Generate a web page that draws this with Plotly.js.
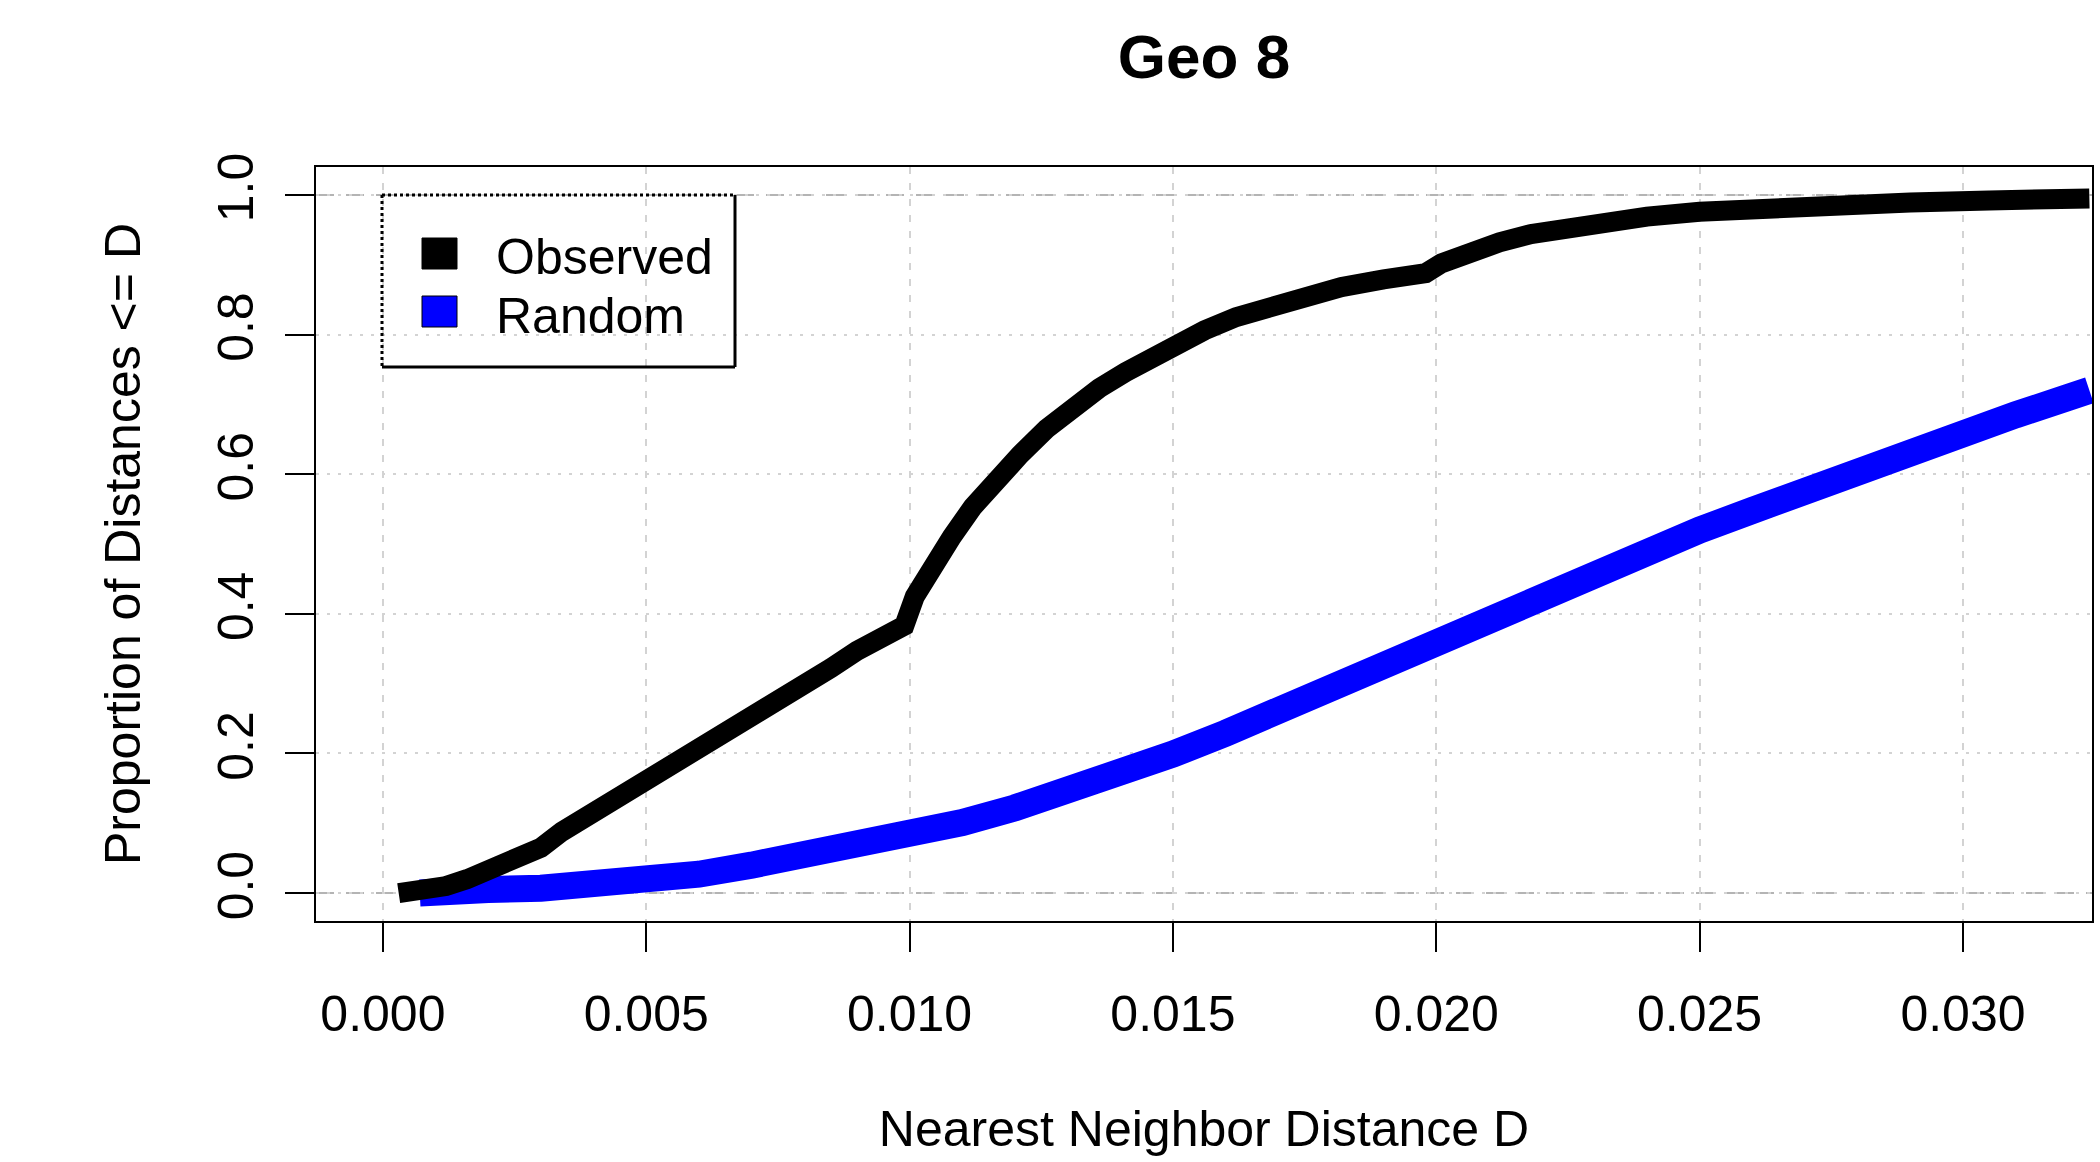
<!DOCTYPE html>
<html>
<head>
<meta charset="utf-8">
<script src="https://cdn.plot.ly/plotly-3.0.1.min.js"></script>
<style>html,body{margin:0;padding:0;background:#fff;}#chart{width:2100px;height:1162px;}</style>
</head>
<body>
<div id="chart"></div>
<script>
// ---- data ----
const obsX = [0.0003,0.0008,0.0012,0.0016,0.0021,0.0025,0.0030,0.0034,0.0038,0.0042,0.0046,0.0050,0.0055,0.0060,0.0065,0.0070,0.0075,0.0080,0.0085,0.0090,0.0095,0.0099,0.0101,0.0104,0.0108,0.0112,0.0116,0.0121,0.0126,0.0131,0.0136,0.0141,0.0146,0.0151,0.0156,0.0162,0.0168,0.0175,0.0182,0.0190,0.0198,0.0201,0.0206,0.0212,0.0218,0.0225,0.0232,0.0240,0.0250,0.0262,0.0275,0.0290,0.0305,0.0320,0.0324];
const obsY = [0.0,0.003,0.01,0.02,0.036,0.052,0.065,0.088,0.106,0.125,0.14,0.158,0.184,0.205,0.232,0.253,0.277,0.30,0.322,0.347,0.367,0.383,0.425,0.465,0.51,0.553,0.59,0.628,0.665,0.697,0.723,0.746,0.768,0.787,0.806,0.825,0.840,0.855,0.868,0.879,0.888,0.902,0.917,0.932,0.944,0.954,0.962,0.969,0.976,0.982,0.986,0.989,0.992,0.994,0.995];
const randX = [0.0007,0.0010,0.0020,0.0030,0.0040,0.0050,0.0060,0.0070,0.0080,0.0090,0.0100,0.0110,0.0120,0.0130,0.0140,0.0150,0.0160,0.0170,0.0180,0.0190,0.0200,0.0210,0.0220,0.0230,0.0240,0.0250,0.0260,0.0270,0.0280,0.0290,0.0300,0.0310,0.0320,0.0324];
const randY = [0.0,0.003,0.005,0.007,0.011,0.017,0.027,0.04,0.053,0.067,0.083,0.101,0.122,0.145,0.17,0.199,0.229,0.262,0.295,0.329,0.362,0.395,0.428,0.46,0.49,0.52,0.548,0.577,0.605,0.631,0.66,0.685,0.71,0.72];
const seriesNames = ['Observed','Random'];
const seriesColors = ['#000000','#0000ff'];
const xTickVals = [0,0.005,0.010,0.015,0.020,0.025,0.030];
const xTickText = ['0.000','0.005','0.010','0.015','0.020','0.025','0.030'];
const yTickVals = [0,0.2,0.4,0.6,0.8,1.0];
const yTickText = ['0.0','0.2','0.4','0.6','0.8','1.0'];
const refLines = [0,1];
const chartTitle = 'Geo 8';
const xTitle = 'Nearest Neighbor Distance D';
const yTitle = 'Proportion of Distances <= D';

// ---- layout geometry ----
const W = 2100, H = 1162;
const M = {l:316, r:8, t:167, b:241};
const PW = W - M.l - M.r, PH = H - M.t - M.b;
const px = v => (v - M.l) / PW;          // page px -> paper x
const py = v => (H - M.b - v) / PH;      // page px -> paper y
const FONT = 'Liberation Sans, Arial, sans-serif';

const traces = [
  {x: randX, y: randY, type: 'scatter', mode: 'lines', name: seriesNames[1],
   line: {color: seriesColors[1], width: 27}, showlegend: false, hoverinfo: 'skip'},
  {x: obsX, y: obsY, type: 'scatter', mode: 'lines', name: seriesNames[0],
   line: {color: seriesColors[0], width: 20}, showlegend: false, hoverinfo: 'skip'}
];

const shapes = [];
refLines.forEach(v => shapes.push({type:'line', xref:'paper', x0:0, x1:1, yref:'y', y0:v, y1:v,
  line:{color:'#b4b4b4', width:2, dash:'18px,12px'}, layer:'below'}));
// legend box
const LB = {x0:382, x1:735, y0:195, y1:367};
shapes.push({type:'line', xref:'paper', yref:'paper', x0:px(LB.x0), x1:px(LB.x1), y0:py(LB.y0), y1:py(LB.y0), line:{color:'#000', width:3, dash:'3px,3px'}});
shapes.push({type:'line', xref:'paper', yref:'paper', x0:px(LB.x0), x1:px(LB.x0), y0:py(LB.y0), y1:py(LB.y1), line:{color:'#000', width:3, dash:'3px,3px'}});
shapes.push({type:'line', xref:'paper', yref:'paper', x0:px(LB.x1), x1:px(LB.x1), y0:py(LB.y0), y1:py(LB.y1), line:{color:'#000', width:3}});
shapes.push({type:'line', xref:'paper', yref:'paper', x0:px(LB.x0), x1:px(LB.x1), y0:py(LB.y1), y1:py(LB.y1), line:{color:'#000', width:3}});
const annotations = [];
const legendRows = [{top:238, bot:269, cy:257}, {top:296, bot:327, cy:316}];
seriesNames.forEach((n, i) => {
  const r = legendRows[i];
  shapes.push({type:'rect', xref:'paper', yref:'paper', x0:px(422), x1:px(457), y0:py(r.bot), y1:py(r.top),
    fillcolor: seriesColors[i], line:{color:'#000', width:1}});
  annotations.push({xref:'paper', yref:'paper', x:px(494), y:py(r.cy), xanchor:'left', yanchor:'middle',
    text:n, showarrow:false, font:{family:FONT, size:50, color:'#000'}});
});

const axisCommon = {
  showline:true, mirror:true, linecolor:'#000', linewidth:2,
  ticks:'outside', ticklen:29, tickwidth:2, tickcolor:'#000',
  tickfont:{family:FONT, size:50, color:'#000'},
  showgrid:true, gridcolor:'#d3d3d3', gridwidth:2,
  zeroline:false, automargin:false, fixedrange:true
};

const layout = {
  width:W, height:H, margin:M, paper_bgcolor:'#fff', plot_bgcolor:'#fff',
  showlegend:false,
  title:{text:chartTitle, font:{family:FONT, size:62, color:'#000', weight:'bold'},
    x:0.5, xref:'paper', y:1-56/H, yref:'container', yanchor:'middle'},
  xaxis: Object.assign({}, axisCommon, {
    range:[-0.00127, 0.03245], tickmode:'array', tickvals:xTickVals, ticktext:xTickText,
    griddash:'7px,9px', ticklabelstandoff:19,
    title:{text:xTitle, font:{family:FONT, size:50, color:'#000'}, standoff:70}
  }),
  yaxis: Object.assign({}, axisCommon, {
    range:[-0.04, 1.04], tickmode:'array', tickvals:yTickVals, ticktext:yTickText,
    griddash:'3px,8px', tickangle:-90, ticklabelstandoff:12,
    title:{text:yTitle, font:{family:FONT, size:50, color:'#000'}, standoff:52}
  }),
  shapes:shapes, annotations:annotations
};

Plotly.newPlot('chart', traces, layout, {displayModeBar:false, staticPlot:true});
</script>
</body>
</html>
